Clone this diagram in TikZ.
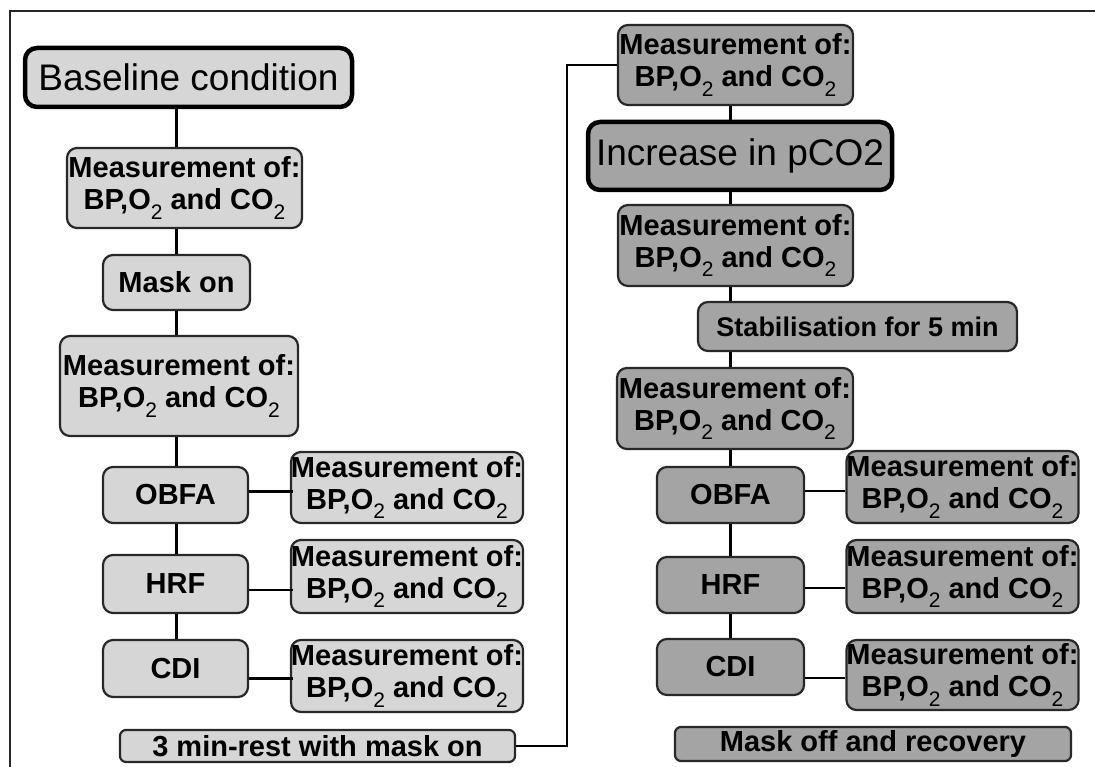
\documentclass[tikz,border=0pt]{standalone}
\usepackage{fontspec}
\setmainfont{Liberation Sans}
\definecolor{lightfill}{RGB}{214,214,214}
\definecolor{darkfill}{RGB}{164,164,164}
\definecolor{boxline}{RGB}{40,40,40}
\newcommand{\subtwo}{\raisebox{-0.32em}{\fontsize{21}{21}\selectfont\mdseries 2}}
\newcommand{\meastext}{Measurement of:\\BP,O\subtwo{} and CO\subtwo}
\tikzset{
  box/.style={draw=boxline, line width=2.2pt, rounded corners=10pt, align=center,
    inner sep=0pt, font=\fontsize{29}{32}\selectfont\bfseries},
  lbox/.style={box, fill=lightfill},
  dbox/.style={box, fill=darkfill},
  bigbox/.style={draw=black, line width=4.5pt, rounded corners=12pt, align=center,
    inner sep=0pt, font=\fontsize{37}{40}\selectfont},
  wire/.style={draw=black, line width=2.8pt},
}
\begin{document}
\begin{tikzpicture}[x=1pt,y=-1pt]
\useasboundingbox[fill=white] (0,0) rectangle (1095,767);
% outer frame
\draw[line width=2.4pt, draw=black!85] (10,767) -- (10,11) -- (1095,11);

% ---------- left column ----------
\node[bigbox, fill=lightfill, minimum width=327pt, minimum height=59pt] (base) at (188.5,77.5) {Baseline condition};
\node[lbox, minimum width=235pt, minimum height=80pt] (m1) at (184.5,188) {\meastext};
\node[lbox, minimum width=147pt, minimum height=55pt] (mask) at (176.5,282.5) {Mask on};
\node[lbox, minimum width=238pt, minimum height=100pt] (m2) at (179,386) {\meastext};
\node[lbox, minimum width=145pt, minimum height=56pt] (obfa) at (175.5,495) {OBFA};
\node[lbox, minimum width=230pt, minimum height=71pt] (mo) at (407,487.5) {\meastext};
\node[lbox, minimum width=145pt, minimum height=58pt] (hrf) at (175.5,584) {HRF};
\node[lbox, minimum width=230pt, minimum height=73pt] (mh) at (407,576.5) {\meastext};
\node[lbox, minimum width=145pt, minimum height=57pt] (cdi) at (175.5,668.5) {CDI};
\node[lbox, minimum width=230pt, minimum height=72pt] (mc) at (407,676) {\meastext};
\node[lbox, minimum width=395pt, minimum height=32pt, rounded corners=6pt] (rest) at (317.5,746) {3 min-rest with mask on};

% ---------- right column ----------
\node[dbox, minimum width=235pt, minimum height=80pt] (tm) at (735.5,65) {\meastext};
\node[bigbox, fill=darkfill, minimum width=304pt, minimum height=68pt] (inc) at (740,156) {Increase in pCO2};
\node[dbox, minimum width=235pt, minimum height=81pt] (rm1) at (735.5,245.5) {\meastext};
\node[dbox, minimum width=319pt, minimum height=49pt, font=\fontsize{27}{29}\selectfont\bfseries] (stab) at (857.5,326.5) {Stabilisation for 5 min};
\node[dbox, minimum width=236pt, minimum height=81pt] (rm2) at (735,408.5) {\meastext};
\node[dbox, minimum width=147pt, minimum height=56pt] (robfa) at (730.5,495) {OBFA};
\node[dbox, minimum width=229pt, minimum height=72pt] (rmo) at (962.5,487) {\meastext};
\node[dbox, minimum width=147pt, minimum height=56pt] (rhrf) at (730.5,585) {HRF};
\node[dbox, minimum width=229pt, minimum height=73pt] (rmh) at (962.5,576.5) {\meastext};
\node[dbox, minimum width=147pt, minimum height=56pt] (rcdi) at (730.5,667) {CDI};
\node[dbox, minimum width=229pt, minimum height=70pt] (rmc) at (962.5,675) {\meastext};
\node[dbox, minimum width=396pt, minimum height=34pt, rounded corners=6pt] (moff) at (873,744) {Mask off and recovery};

\coordinate (corner) at (567,65);

% ---------- connectors, left ----------
\draw[wire] (base.south -| mask.center) -- (m1.north -| mask.center);
\draw[wire] (m1.south -| mask.center) -- (mask.north);
\draw[wire] (mask.south) -- (m2.north -| mask.center);
\draw[wire] (m2.south -| mask.center) -- (obfa.north -| mask.center);
\draw[wire] (obfa.south -| mask.center) -- (hrf.north -| mask.center);
\draw[wire] (hrf.south -| mask.center) -- (cdi.north -| mask.center);
\draw[wire] (obfa.east |- mo.center) ++(0,4) -- ++(44,0);
\draw[wire] (hrf.east) ++(0,6) -- ++(44,0);
\draw[wire] (cdi.east) ++(0,10) -- ++(44,0);
\draw[wire] (rest.east) -| (corner) -- (tm.west);

% ---------- connectors, right ----------
\draw[wire] (tm.south -| robfa.center) -- (inc.north -| robfa.center);
\draw[wire] (inc.south -| robfa.center) -- (rm1.north -| robfa.center);
\draw[wire] (rm1.south -| robfa.center) -- (stab.north -| robfa.center);
\draw[wire] (stab.south -| robfa.center) -- (rm2.north -| robfa.center);
\draw[wire] (rm2.south -| robfa.center) -- (robfa.north);
\draw[wire] (robfa.south) -- (rhrf.north);
\draw[wire] (rhrf.south) -- (rcdi.north);
\draw[wire] (robfa.east) ++(0,-4) -- (rmo.west |- 0,491);
\draw[wire] (rhrf.east) ++(0,3) -- (rmh.west |- 0,588);
\draw[wire] (rcdi.east) ++(0,11) -- (rmc.west |- 0,678);
\end{tikzpicture}
\end{document}
